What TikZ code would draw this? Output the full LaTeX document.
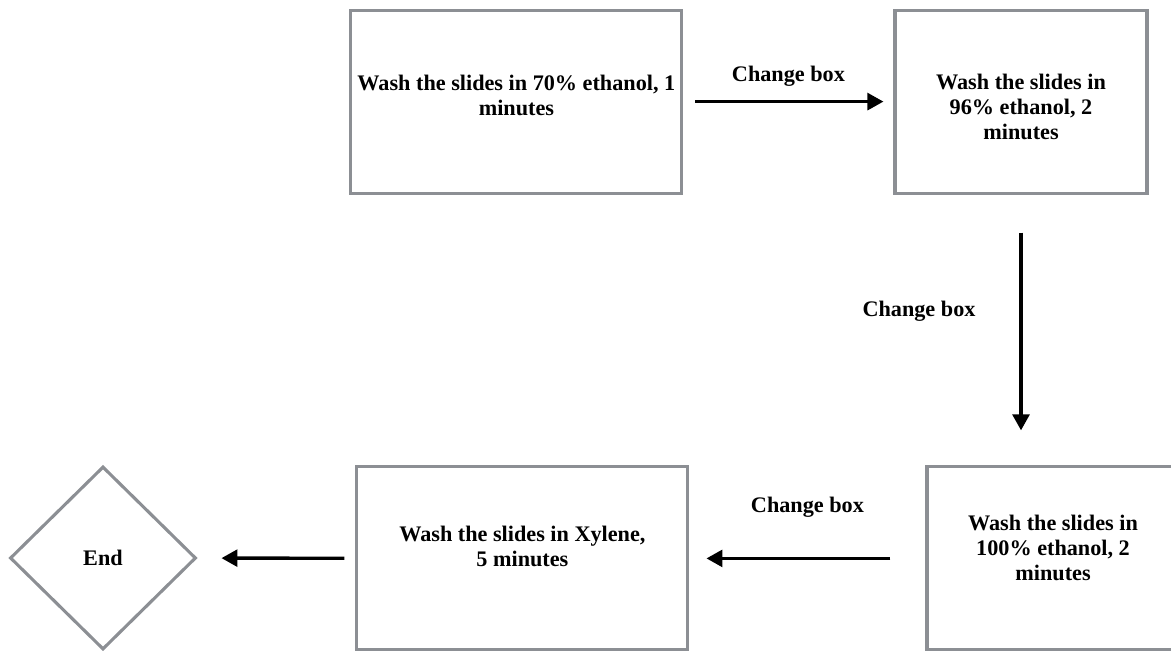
\documentclass[tikz,border=0pt]{standalone}
\usepackage{fontspec}
\setmainfont{Liberation Serif}
\usepackage{tikz}
\usetikzlibrary{arrows.meta,positioning,shapes,calc}
\definecolor{boxgray}{HTML}{8C8F94}

\begin{document}
\begin{tikzpicture}[shorten >=1pt, main node/.style={rectangle,draw=boxgray,line width=2.2pt,minimum height=4.575cm,align=center,inner sep=0pt}, end node/.style={diamond,draw=boxgray,line width=2.2pt,minimum width=4.65cm,minimum height=4.575cm,inner sep=0pt}]
\useasboundingbox (0,0) rectangle (29.275,-16.25);
\begin{scope}[every node/.style={font=\bfseries\fontsize{15.8}{17.8}\selectfont}]
\node[main node,minimum width=8.275cm,text depth=0.3cm] (b1) at (12.91,-2.54) {Wash the slides in 70\% ethanol, 1\\minutes};
\node[main node,minimum width=6.3cm,text height=1.92cm] (b2) at (25.525,-2.54) {Wash the slides in\\96\% ethanol, 2\\minutes};
\node[main node,minimum width=6.3cm,text depth=0.55cm] (b3) at (26.325,-13.96) {Wash the slides in\\100\% ethanol, 2\\minutes};
\node[main node,minimum width=8.275cm,text depth=0.6cm] (b4) at (13.06,-13.96) {Wash the slides in Xylene,\\5 minutes};
\node[end node] (vEnd) at (2.575,-13.95) {End};
\end{scope}
\begin{scope}[every edge/.style={draw=black,line width=2.4pt,-{Triangle[length=0.4cm,width=0.42cm]}}, every node/.style={font=\bfseries\fontsize{15.8}{17.8}\selectfont}]
\draw (b1) edge[shorten <=0.3cm, shorten >=0.25cm] node[midway,yshift=0.625cm]{Change box} (b2);
\draw (b2.south) edge[shorten <=0.95cm, shorten >=0.875cm] node[pos=0.43,xshift=-2.55cm]{Change box} (b2.south |- b3.north);
\draw (b3) edge[shorten <=0.875cm, shorten >=0.425cm] node[midway,yshift=1.275cm]{Change box} (b4);
\draw (b4) edge[shorten <=0.275cm, shorten >=0.6cm] node{} (vEnd);
\end{scope}
\end{tikzpicture}
\end{document}
